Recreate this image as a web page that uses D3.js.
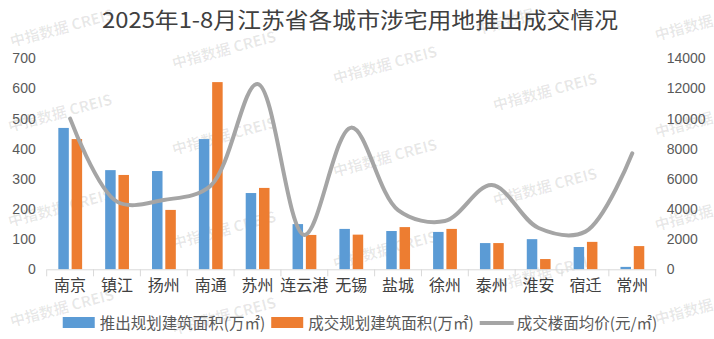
<!DOCTYPE html>
<html><head><meta charset="utf-8">
<script src="https://cdn.jsdelivr.net/npm/d3@7"></script>
<style>html,body{margin:0;padding:0;background:#fff;}svg{display:block;}</style>
</head><body>
<svg id="c" width="714" height="339"></svg>
<script>
const title = "2025年1-8月江苏省各城市涉宅用地推出成交情况";
const categories = ["南京","镇江","扬州","南通","苏州","连云港","无锡","盐城","徐州","泰州","淮安","宿迁","常州"];
const launched = [469,329,326,432,253,150,134,127,124,87,100,74,8];
const sold = [432,313,197,621,270,114,115,140,134,87,34,91,77];
const avgPrice = [10000,4490,4600,5550,12300,2280,9400,3930,3200,5590,2740,2500,7700];
const leftTicks = [0,100,200,300,400,500,600,700];
const rightTicks = [0,2000,4000,6000,8000,10000,12000,14000];
const seriesNames = ["推出规划建筑面积(万㎡)","成交规划建筑面积(万㎡)","成交楼面均价(元/㎡)"];
const colors = ["#5B9BD5","#ED7D31","#A5A5A5"];
const watermarkText = "中指数据 CREIS";
const watermarkShort = "中指数据";
const watermarkCenters = [[62,28],[224,50],[385,65],[545,92],
  [60,113],[224,136],[385,158],[545,187],
  [60,208],[224,230],[385,250],[545,273],
  [62,308],[224,316]];
const watermarkEdge = [[684,28],[684,125],[684,218],[684,312],[505,22]];

const svg = d3.select("#c");
const X0 = 46.7, X1 = 655.7, YT = 58.3, YB = 269.3;
const x = d3.scaleBand().domain(categories).range([X0, X1]);
const yL = d3.scaleLinear().domain([0,700]).range([YB, YT]);
const yR = d3.scaleLinear().domain([0,14000]).range([YB, YT]);
const font = "'Noto Sans CJK SC','Noto Sans',sans-serif";

// watermarks (behind)
const wm = svg.append("g").attr("pointer-events","none");
function addWm(list, txt) {
  list.forEach(([a,b]) => {
    wm.append("text").attr("transform", `translate(${a},${b}) rotate(-15)`).attr("text-anchor","middle").attr("dy","0.35em")
      .style("font-family", font).style("font-size","15px").style("font-weight","700")
      .attr("fill","#000").attr("fill-opacity",0.09).text(txt);
  });
}
addWm(watermarkCenters, watermarkText);
addWm(watermarkEdge, watermarkShort);

// title
svg.append("text").attr("x", 102).attr("y", 28).attr("textLength", 516).attr("lengthAdjust","spacingAndGlyphs")
  .style("font-family", font).style("font-size","22px").attr("fill","#404040").text(title);

// bars
const bw = 10.5;
svg.append("g").selectAll("rect").data(categories).join("rect")
  .attr("x", d => x(d) + x.bandwidth()/2 - 11.8).attr("width", bw)
  .attr("y", (d,i) => yL(launched[i])).attr("height", (d,i) => YB - yL(launched[i]))
  .attr("fill", colors[0]);
svg.append("g").selectAll("rect").data(categories).join("rect")
  .attr("x", d => x(d) + x.bandwidth()/2 + 1.5).attr("width", bw)
  .attr("y", (d,i) => yL(sold[i])).attr("height", (d,i) => YB - yL(sold[i]))
  .attr("fill", colors[1]);

// line
const line = d3.line().x((d,i) => x(categories[i]) + x.bandwidth()/2).y(d => yR(d)).curve(d3.curveCatmullRom.alpha(0.5));
svg.append("path").attr("d", line(avgPrice)).attr("fill","none").attr("stroke", colors[2])
  .attr("stroke-width", 4).attr("stroke-linecap","round").attr("stroke-linejoin","round");

// left axis
const gl = svg.append("g").attr("transform", `translate(${X0},0)`)
  .call(d3.axisLeft(yL).tickValues(leftTicks).tickSize(0).tickPadding(11));
gl.select(".domain").remove();
gl.selectAll("text").style("font-family","'Liberation Sans',sans-serif").style("font-size","14px").attr("fill","#595959");

// right axis
const gr = svg.append("g").attr("transform", `translate(${X1},0)`)
  .call(d3.axisRight(yR).tickValues(rightTicks).tickFormat(d3.format("d")).tickSize(0).tickPadding(11));
gr.select(".domain").remove();
gr.selectAll("text").style("font-family","'Liberation Sans',sans-serif").style("font-size","14px").attr("fill","#595959");

// bottom axis
const gb = svg.append("g").attr("transform", `translate(0,${YB})`)
  .call(d3.axisBottom(x).tickSize(0).tickPadding(10));
gb.select(".domain").attr("stroke","#d9d9d9");
gb.selectAll("text").style("font-family", font).style("font-size","16px").attr("fill","#404040");
const bounds = categories.map(c => x(c)).concat([X1]);
gb.append("g").selectAll("line").data(bounds).join("line")
  .attr("x1", d => d).attr("x2", d => d).attr("y1", 0).attr("y2", 7).attr("stroke","#d9d9d9");

// legend
const lg = svg.append("g");
const items = [];
seriesNames.forEach((n,i) => {
  const g = lg.append("g");
  if (i < 2) g.append("rect").attr("x", 0).attr("y", -6).attr("width", 32).attr("height", 11).attr("fill", colors[i]);
  else g.append("line").attr("x1", 0).attr("x2", 34).attr("y1", 0).attr("y2", 0).attr("stroke", colors[i]).attr("stroke-width", 4);
  const t = g.append("text").attr("x", 37).attr("y", 6).style("font-family", font).style("font-size","15.5px").attr("fill","#595959").text(n);
  const w = 37 + t.node().getComputedTextLength();
  items.push([g, w]);
});
const gap = 6;
const total = items.reduce((s,[g,w]) => s + w, 0) + gap*(items.length-1);
let sx = 360 - total/2;
items.forEach(([g,w]) => { g.attr("transform", `translate(${sx},323)`); sx += w + gap; });
</script>
</body></html>
